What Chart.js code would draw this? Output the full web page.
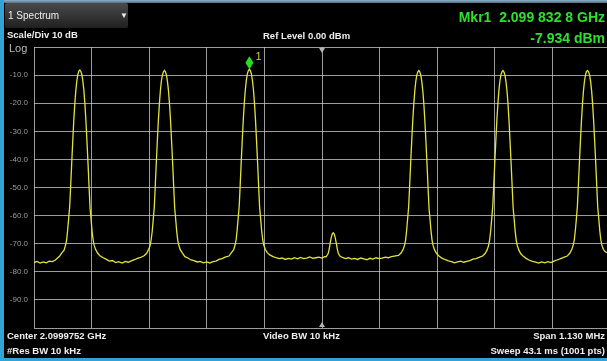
<!DOCTYPE html>
<html>
<head>
<meta charset="utf-8">
<script src="https://cdn.jsdelivr.net/npm/chart.js@4.4.1/dist/chart.umd.min.js"></script>
<style>
  html, body { margin: 0; padding: 0; background: #000; overflow: hidden; }
  body { width: 607px; height: 361px; position: relative; font-family: "Liberation Sans", Arial, sans-serif; }
  #wrap { position: absolute; left: 0; top: 0; width: 612px; height: 361px; }
  .t { position: absolute; white-space: pre; color: #eee; font-weight: bold; font-size: 9.5px; line-height: 10px; }
  .r { text-align: right; }
  .mkr { color: #2ee02e; font-size: 14px; line-height: 14px; }
  #topbar { position: absolute; left: 0; top: 0; width: 607px; height: 3px; background: linear-gradient(#8fb0c6, #4f6f86); }
  #leftbar { position: absolute; left: 0; top: 0; width: 4px; height: 361px; background: #33a3d6; }
  #botbar { position: absolute; left: 0; top: 358px; width: 607px; height: 3px; background: #33a3d6; }
  #drop { position: absolute; left: 5px; top: 3px; width: 123px; height: 25px; background: linear-gradient(#4a4a4a, #202020); border-radius: 2px; }
  #mkLabel { position: absolute; color: #c9c93a; font-size: 11px; line-height: 11px; }
</style>
</head>
<body>
<div id="wrap"><canvas id="chart"></canvas></div>
<div id="topbar"></div>
<div id="drop"></div>
<div class="t" style="left:8px;top:11px;font-weight:normal;font-size:10px;">1 Spectrum</div>
<div class="t" style="left:120px;top:11px;font-size:8px;">&#9660;</div>
<div class="t" style="left:7px;top:30px;">Scale/Div 10 dB</div>
<div class="t" style="left:9px;top:43px;font-weight:normal;font-size:11px;line-height:11px;color:#bbb;">Log</div>
<div class="t" style="left:263px;top:31px;">Ref Level 0.00 dBm</div>
<div class="t r mkr" style="right:2px;top:10px;">Mkr1  2.099 832 8 GHz</div>
<div class="t r mkr" style="right:2px;top:31px;">-7.934 dBm</div>
<div class="t" style="left:7px;top:331px;">Center 2.0999752 GHz</div>
<div class="t" style="left:263px;top:331px;">Video BW 10 kHz</div>
<div class="t r" style="right:2px;top:331px;">Span 1.130 MHz</div>
<div class="t" style="left:7px;top:346px;">#Res BW 10 kHz</div>
<div class="t r" style="right:2px;top:346px;">Sweep 43.1 ms (1001 pts)</div>
<div id="mkLabel">1</div>
<div id="leftbar"></div>
<div id="botbar"></div>
<script>
// offset from center 2.0999752 GHz, kHz
const freqKHz = [
  -565, -559, -553, -547, -541, -535, -529, -523,
  -515, -510, -506, -503, -501, -499, -497, -495, -493, -491, -489, -487, -485, -483, -481, -479, -477, -475,
  -473, -471, -469, -467, -465, -463, -461, -459, -457, -455, -453, -451, -449, -447, -444, -440, -435,
  -429, -423, -417, -411, -405, -399, -392, -386, -380, -374, -368, -362, -356,
  -349, -344, -340, -337, -335, -333, -331, -329, -327, -325, -323, -321, -319, -317, -315, -313, -311, -309,
  -307, -305, -303, -301, -299, -297, -295, -293, -291, -289, -287, -285, -283, -281, -278, -274, -269,
  -263, -257, -251, -245, -239, -233, -226, -220, -214, -208, -202, -196, -190,
  -182.4, -177.4, -173.4, -170.4, -168.4, -166.4, -164.4, -162.4, -160.4, -158.4, -156.4, -154.4, -152.4, -150.4, -148.4, -146.4, -144.4, -142.4,
  -140.4, -138.4, -136.4, -134.4, -132.4, -130.4, -128.4, -126.4, -124.4, -122.4, -120.4, -118.4, -116.4, -114.4, -111.4, -107.4, -102.4,
  -96, -90, -84, -78, -72, -66, -60, -54, -48, -42, -36, -30, -24, -18, -12, -6, 0, 5,
  8, 12, 14, 16, 18, 20, 22, 24, 26, 28, 30, 32, 35, 40,
  46, 52, 58, 64, 70, 76, 82, 88, 94, 100, 106, 112, 118, 124, 130, 136, 142,
  150, 155, 159, 162, 164, 166, 168, 170, 172, 174, 176, 178, 180, 182, 184, 186, 188, 190,
  192, 194, 196, 198, 200, 202, 204, 206, 208, 210, 212, 214, 216, 218, 221, 225, 230,
  236, 242, 248, 254, 260, 266, 272, 278, 284, 290, 296, 302, 308,
  315, 320, 324, 327, 329, 331, 333, 335, 337, 339, 341, 343, 345, 347, 349, 351, 353, 355,
  357, 359, 361, 363, 365, 367, 369, 371, 373, 375, 377, 379, 381, 383, 386, 390, 395,
  401, 407, 413, 419, 425, 431, 437, 443, 449, 455, 461, 467, 474,
  481, 486, 490, 493, 495, 497, 499, 501, 503, 505, 507, 509, 511, 513, 515, 517, 519, 521,
  523, 525, 527, 529, 531, 533, 535, 537, 539, 541, 543, 545, 547, 549, 552, 556, 561, 565
]

// trace level, dBm
const levelDbm = [
  -76.7, -76.3, -76.9, -76.5, -76.8, -76.2, -76.4, -75.8,
  -74.5, -73.2, -72.3, -70.4, -68.7, -65.2, -61.0, -56.8, -49.3, -41.2, -33.6, -26.3, -20.4, -15.6, -12.1, -9.8, -8.6, -8.2,
  -8.7, -9.9, -12.3, -15.7, -20.6, -26.8, -33.9, -41.5, -49.6, -57.4, -61.3, -65.8, -68.6, -70.6, -72.1, -73.4, -74.4,
  -75.0, -75.6, -76.2, -76.0, -76.7, -76.4, -76.9, -76.3, -76.6, -76.1, -75.7, -75.2, -74.9,
  -74.3, -73.4, -72.0, -70.6, -68.4, -65.5, -61.2, -57.0, -49.0, -41.0, -33.3, -26.1, -20.2, -15.4, -12.0, -9.9, -8.8, -8.3,
  -8.9, -10.1, -12.5, -15.9, -20.7, -26.6, -33.8, -41.4, -49.5, -57.2, -61.4, -65.6, -68.8, -70.5, -72.2, -73.3, -74.6,
  -75.1, -75.8, -76.0, -76.5, -76.3, -76.8, -76.5, -76.9, -76.4, -76.2, -75.6, -75.3, -74.8,
  -74.4, -73.1, -72.2, -70.3, -68.6, -65.1, -60.8, -56.6, -48.8, -40.7, -33.0, -25.8, -19.9, -15.2, -11.8, -9.5, -8.4, -7.9,
  -8.5, -9.7, -12.0, -15.4, -20.2, -26.2, -33.4, -41.0, -49.1, -57.0, -61.0, -65.4, -68.5, -70.4, -72.0, -73.2, -74.0,
  -74.6, -75.0, -75.3, -75.1, -75.6, -75.2, -75.5, -75.0, -75.4, -74.9, -75.3, -75.1, -74.7, -75.2, -75.0, -74.8, -75.1, -74.6,
  -74.7, -73.6, -72.0, -69.9, -67.9, -66.6, -66.1, -66.6, -67.9, -69.8, -71.9, -73.4, -74.4, -74.9,
  -75.3, -75.0, -75.5, -75.2, -75.6, -75.1, -75.4, -75.7, -75.2, -75.5, -75.0, -75.3, -75.1, -74.8, -75.0, -74.6, -74.4,
  -74.2, -73.3, -72.1, -70.5, -68.7, -65.4, -61.1, -56.9, -49.2, -41.1, -33.5, -26.4, -20.5, -15.7, -12.2, -10.0, -8.8, -8.4,
  -8.9, -10.2, -12.6, -16.0, -20.8, -26.9, -34.0, -41.6, -49.7, -57.5, -61.5, -65.7, -68.9, -70.7, -72.3, -73.5, -74.5,
  -75.2, -75.7, -76.1, -76.4, -76.8, -76.5, -76.2, -76.6, -76.3, -76.0, -75.5, -75.3, -74.9,
  -74.4, -73.5, -72.2, -70.5, -68.5, -65.3, -61.0, -56.7, -49.1, -41.0, -33.4, -26.2, -20.4, -15.6, -12.1, -9.9, -8.8, -8.4,
  -8.9, -10.1, -12.4, -15.8, -20.6, -26.7, -33.9, -41.4, -49.5, -57.3, -61.3, -65.6, -68.7, -70.6, -72.2, -73.6, -74.5,
  -75.3, -75.9, -76.3, -76.6, -76.9, -76.5, -76.8, -76.4, -76.7, -76.2, -75.8, -75.4, -74.9,
  -74.4, -73.4, -72.1, -70.4, -68.6, -65.3, -61.2, -56.8, -49.0, -41.1, -33.4, -26.3, -20.3, -15.5, -12.0, -9.8, -8.7, -8.4,
  -8.8, -10.0, -12.3, -15.7, -20.5, -26.6, -33.7, -41.3, -49.4, -57.2, -61.2, -65.5, -68.6, -70.5, -72.0, -72.9, -73.4, -73.6
]

const yTickValues = [-10, -20, -30, -40, -50, -60, -70, -80, -90]
const yTickLabels = ['-10.0', '-20.0', '-30.0', '-40.0', '-50.0', '-60.0', '-70.0', '-80.0', '-90.0']

const spanKHz = 1130
const markerFreqKHz = -142.4
const markerLevel = -7.934

const gridColor = 'rgba(195,195,195,0.8)'

// marker diamond + center triangles
const overlay = {
  id: 'overlay',
  afterDatasetsDraw(chart) {
    const ctx = chart.ctx
    const xs = chart.scales.x
    const ys = chart.scales.y
    const area = chart.chartArea

    const cx = xs.getPixelForValue(0)
    ctx.save()
    ctx.fillStyle = '#b5b5b5'
    ctx.beginPath()
    ctx.moveTo(cx - 3, area.top + 1)
    ctx.lineTo(cx + 3, area.top + 1)
    ctx.lineTo(cx, area.top + 6)
    ctx.fill()
    ctx.beginPath()
    ctx.moveTo(cx - 3, area.bottom - 1)
    ctx.lineTo(cx + 3, area.bottom - 1)
    ctx.lineTo(cx, area.bottom - 6)
    ctx.fill()

    const px = xs.getPixelForValue(markerFreqKHz)
    const py = ys.getPixelForValue(markerLevel)
    ctx.fillStyle = '#22e022'
    ctx.beginPath()
    ctx.moveTo(px, py - 13)
    ctx.lineTo(px + 4, py - 6.5)
    ctx.lineTo(px, py)
    ctx.lineTo(px - 4, py - 6.5)
    ctx.closePath()
    ctx.fill()
    ctx.restore()

    const lab = document.getElementById('mkLabel')
    lab.style.left = (px + 6) + 'px'
    lab.style.top = (py - 18) + 'px'
  }
}

const traceData = freqKHz.map((f, i) => ({ x: f, y: levelDbm[i] }))

const config = {
  type: 'line',
  data: {
    datasets: [{
      data: traceData,
      borderColor: '#e3e33e',
      borderWidth: 1.3,
      pointRadius: 0,
      tension: 0,
      fill: false
    }]
  },
  options: {
    responsive: true,
    maintainAspectRatio: false,
    animation: false,
    events: [],
    layout: { padding: { left: 0, right: 2, top: 47, bottom: 33 } },
    plugins: { legend: { display: false }, tooltip: { enabled: false } },
    scales: {
      x: {
        type: 'linear',
        min: -spanKHz / 2,
        max: spanKHz / 2,
        afterFit: (s) => { s.height = 0 },
        afterBuildTicks: (s) => {
          s.ticks = []
          for (let i = 0; i <= 10; i++) s.ticks.push({ value: -spanKHz / 2 + i * spanKHz / 10 })
        },
        ticks: { display: false },
        grid: { color: gridColor, lineWidth: 1, drawTicks: false },
        border: { display: false }
      },
      y: {
        min: -100,
        max: 0,
        afterFit: (s) => { s.width = 34 },
        ticks: {
          stepSize: 10,
          padding: 6,
          color: '#9c9c9c',
          font: { family: 'Liberation Sans', size: 8 },
          callback: (v) => {
            const i = yTickValues.indexOf(v)
            return i >= 0 ? yTickLabels[i] : ''
          }
        },
        grid: { color: gridColor, lineWidth: 1, drawTicks: false },
        border: { display: false }
      }
    }
  },
  plugins: [overlay]
}

new Chart(document.getElementById('chart'), config)
</script>
</body>
</html>
